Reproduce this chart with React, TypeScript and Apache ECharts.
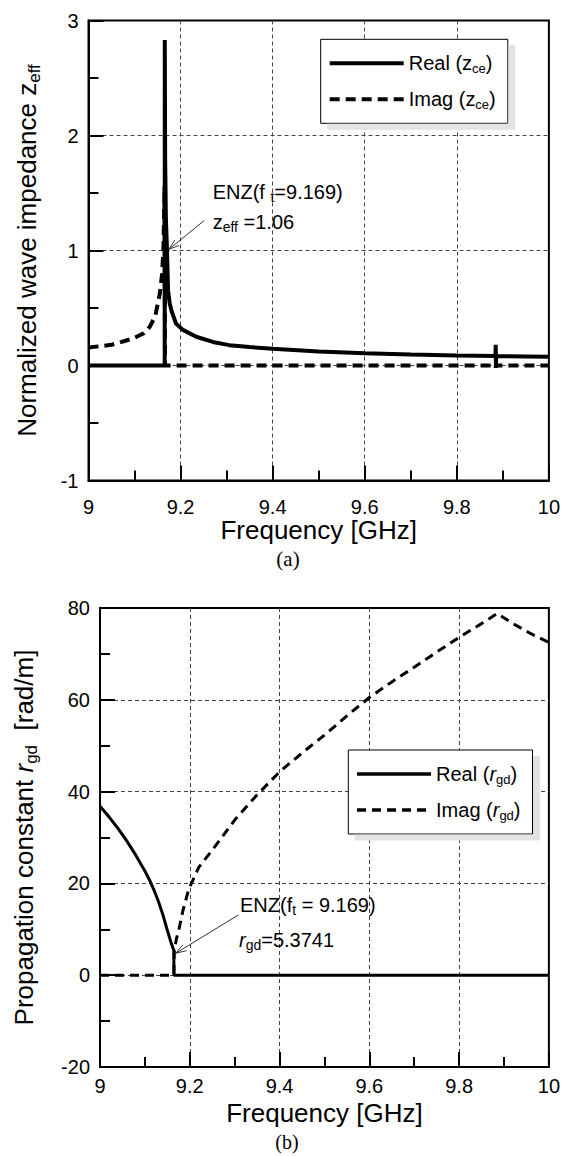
import React, { useEffect, useRef } from 'react';
import * as echarts from 'echarts';

// ---------- data (a): normalized wave impedance ----------
const xTicksLabel = ['9', '9.2', '9.4', '9.6', '9.8', '10'];
const aRealF = [9.0, 9.1655, 9.1657, 9.1665, 9.168, 9.1705, 9.1728, 9.1764, 9.18, 9.19, 9.205, 9.234, 9.27, 9.306, 9.35, 9.4, 9.5, 9.6, 9.7, 9.8, 9.884, 9.8845, 9.885, 9.8855, 9.95, 10.0];
const aRealV = [0, 0, 2.83, 1.8, 1.3, 1.0, 0.655, 0.54, 0.48, 0.365, 0.31, 0.25, 0.205, 0.177, 0.16, 0.146, 0.122, 0.106, 0.095, 0.086, 0.082, 0.18, 0.0, 0.081, 0.079, 0.077];
const aImagF = [9.0, 9.05, 9.097, 9.12, 9.133, 9.145, 9.155, 9.16, 9.163, 9.1652, 9.1662, 9.884, 9.8845, 9.885, 10.0];
const aImagV = [0.156, 0.18, 0.235, 0.28, 0.336, 0.43, 0.626, 0.8, 1.05, 1.56, 0, 0, -0.02, 0, 0];
const annA = { f: 9.1745, v: 1.01 };

// ---------- data (b): propagation constant ----------
const bRealF = [9.0, 9.02, 9.04, 9.06, 9.08, 9.1, 9.11, 9.12, 9.13, 9.14, 9.15, 9.158, 9.1645, 9.1647, 10.0];
const bRealV = [36.8, 34.5, 32.0, 29.2, 26.1, 22.7, 20.8, 18.6, 16.1, 13.2, 9.8, 7.2, 5.37, 0, 0];
const bImagF = [9.0, 9.1645, 9.1655, 9.17, 9.1766, 9.185, 9.198, 9.22, 9.252, 9.3, 9.35, 9.4, 9.45, 9.5, 9.55, 9.6, 9.65, 9.7, 9.75, 9.8, 9.85, 9.885, 9.92, 9.96, 10.0];
const bImagV = [0, 0, 5.37, 7.8, 10.3, 14.2, 18.8, 23.5, 27.5, 33.8, 39.3, 44.3, 48.4, 52.3, 56.5, 60.5, 63.9, 67.1, 70.4, 73.6, 76.6, 78.8, 76.6, 74.4, 72.5];
const annB = { f: 9.169, v: 4.8 };

const FONT = '"Liberation Sans", Arial, Helvetica, sans-serif';
const SERIF = '"Liberation Serif", "Times New Roman", serif';

const pairs = (f: number[], v: number[]) => f.map((x, i) => [x, v[i]]);

const subRich = (size: number, lh: number) => ({
  fontSize: size, lineHeight: lh, verticalAlign: 'bottom', fontFamily: FONT, color: '#000',
});
const itRich = (size: number, lh: number) => ({
  fontSize: size, lineHeight: lh, fontStyle: 'italic', fontFamily: FONT, color: '#000',
});

const xLabel = (v: number) => {
  const s = String(Math.round(v * 10) / 10);
  return xTicksLabel.includes(s) ? s : s;
};

function axisCommon(labelMargin: number) {
  return {
    axisLine: { show: true, onZero: false, lineStyle: { color: '#000', width: 2 } },
    axisTick: { show: true, inside: true, length: 15, lineStyle: { color: '#000', width: 2 } },
    minorTick: { show: true, splitNumber: 2, length: 10, lineStyle: { color: '#000', width: 2 } },
    splitLine: { show: true, showMinLine: false, showMaxLine: false, lineStyle: { color: '#444', width: 1, type: [4, 3] } },
    axisLabel: { color: '#000', fontSize: 20, fontFamily: FONT, margin: labelMargin },
  };
}

function arrow(x1: number, y1: number, x2: number, y2: number) {
  const ang = Math.atan2(y1 - y2, x1 - x2);
  const L = 11, a = 0.32;
  const p1 = [x2 + L * Math.cos(ang + a), y2 + L * Math.sin(ang + a)];
  const p2 = [x2 + L * Math.cos(ang - a), y2 + L * Math.sin(ang - a)];
  return [
    { type: 'line', z: 100, shape: { x1, y1, x2, y2 }, style: { stroke: '#333', lineWidth: 1 } },
    { type: 'polyline', z: 100, shape: { points: [p1, [x2, y2], p2] }, style: { stroke: '#333', lineWidth: 1, fill: null } },
  ];
}

function txt(x: number, y: number, text: string, size = 20, family = FONT, align = 'left') {
  return {
    type: 'text', z: 100,
    style: {
      x, y, text, fontSize: size, fontFamily: family, fill: '#000', align, verticalAlign: 'middle', lineHeight: 24,
      rich: {
        s: { fontSize: 14, lineHeight: 12, verticalAlign: 'bottom', fontFamily: FONT, fill: '#000' },
        i: { fontSize: size, lineHeight: 24, fontStyle: 'italic', fontFamily: FONT, fill: '#000' },
      },
    },
  };
}

export default function App() {
  const ref = useRef<HTMLDivElement>(null);
  useEffect(() => {
    if (!ref.current) return;
    const chart = echarts.init(ref.current, null, { renderer: 'svg' });
    const legendCommon = {
      orient: 'vertical',
      itemWidth: 74,
      itemHeight: 24,
      itemGap: 12,
      padding: [12, 12, 12, 7],
      backgroundColor: '#fff',
      borderColor: '#000',
      borderWidth: 1,
      borderRadius: 0,
      shadowColor: '#e2e2e2',
      shadowBlur: 0,
      shadowOffsetX: 7,
      shadowOffsetY: 6,
      selectedMode: false,
      itemStyle: { opacity: 0, color: 'rgba(0,0,0,0)', borderWidth: 0 },
      textStyle: {
        fontSize: 20, fontFamily: FONT, color: '#000', lineHeight: 24,
        rich: { s: subRich(13, 12), i: itRich(20, 24) },
      },
    };
    const option: any = {
      animation: false,
      backgroundColor: '#fff',
      textStyle: { fontFamily: FONT },
      grid: [
        { left: 88.5, top: 20.5, width: 462, height: 460, show: true, borderColor: '#000', borderWidth: 2, backgroundColor: 'transparent' },
        { left: 95, top: 608, width: 462.6, height: 459, show: true, borderColor: '#000', borderWidth: 2, backgroundColor: 'transparent' },
      ],
      xAxis: [
        {
          gridIndex: 0, type: 'value', min: 9, max: 10, interval: 0.2, ...axisCommon(16),
          axisLabel: { ...axisCommon(16).axisLabel, formatter: xLabel },
          name: 'Frequency [GHz]', nameLocation: 'middle', nameGap: 33,
          nameTextStyle: { fontSize: 26, fontFamily: FONT, color: '#000' },
        },
        {
          gridIndex: 1, type: 'value', min: 9, max: 10, interval: 0.2, ...axisCommon(9),
          axisLabel: { ...axisCommon(9).axisLabel, formatter: xLabel },
          name: 'Frequency [GHz]', nameLocation: 'middle', nameGap: 33,
          nameTextStyle: { fontSize: 26, fontFamily: FONT, color: '#000' },
        },
      ],
      yAxis: [
        {
          gridIndex: 0, type: 'value', min: -1, max: 3, interval: 1, ...axisCommon(10),
          name: 'Normalized wave impedance z{s|eff}', nameLocation: 'middle', nameGap: 46,
          nameTextStyle: {
            fontSize: 26, fontFamily: FONT, color: '#000', lineHeight: 32,
            rich: { s: subRich(17, 16) },
          },
        },
        {
          gridIndex: 1, type: 'value', min: -20, max: 80, interval: 20, ...axisCommon(10),
          name: 'Propagation constant {i|r}{s|gd}  [rad/m]', nameLocation: 'middle', nameGap: 60,
          nameTextStyle: {
            fontSize: 26, fontFamily: FONT, color: '#000', lineHeight: 32,
            rich: { s: subRich(17, 16), i: itRich(26, 32) },
          },
        },
      ],
      legend: [
        {
          ...legendCommon, left: 320.7, top: 39.3, data: ['aReal', 'aImag'],
          lineStyle: { width: 4 },
          formatter: (n: string) => (n === 'aReal' ? 'Real (z{s|ce})' : 'Imag (z{s|ce})'),
        },
        {
          ...legendCommon, left: 348.3, top: 750, data: ['bReal', 'bImag'],
          lineStyle: { width: 3.5 },
          formatter: (n: string) => (n === 'bReal' ? 'Real ({i|r}{s|gd})' : 'Imag ({i|r}{s|gd})'),
        },
      ],
      series: [
        {
          name: 'aReal', type: 'line', xAxisIndex: 0, yAxisIndex: 0, data: pairs(aRealF, aRealV),
          symbol: 'none', lineStyle: { color: '#000', width: 4, type: 'solid' }, itemStyle: { color: '#000' }, z: 4,
        },
        {
          name: 'aImag', type: 'line', xAxisIndex: 0, yAxisIndex: 0, data: pairs(aImagF, aImagV),
          symbol: 'none', lineStyle: { color: '#000', width: 4, type: [10, 6] }, itemStyle: { color: '#000' }, z: 3,
        },
        {
          name: 'bReal', type: 'line', xAxisIndex: 1, yAxisIndex: 1, data: pairs(bRealF, bRealV),
          symbol: 'none', lineStyle: { color: '#000', width: 3, type: 'solid' }, itemStyle: { color: '#000' }, z: 4,
        },
        {
          name: 'bImag', type: 'line', xAxisIndex: 1, yAxisIndex: 1, data: pairs(bImagF, bImagV),
          symbol: 'none', lineStyle: { color: '#000', width: 3, type: [9, 6] }, itemStyle: { color: '#000' }, z: 3,
        },
      ],
    };
    chart.setOption(option);

    const tA = chart.convertToPixel({ gridIndex: 0 }, [annA.f, annA.v]) as number[];
    const tB = chart.convertToPixel({ gridIndex: 1 }, [annB.f, annB.v]) as number[];
    chart.setOption({
      graphic: [
        txt(212.7, 192, 'ENZ(f {s|t}=9.169)'),
        txt(212.7, 222, 'z{s|eff} =1.06'),
        ...arrow(204, 220.7, tA[0], tA[1]),
        txt(240, 905, 'ENZ(f{s|t} = 9.169)'),
        txt(239, 940, '{i|r}{s|gd}=5.3741'),
        ...arrow(238.3, 915, tB[0], tB[1]),
        txt(288, 559, '(a)', 21, SERIF, 'center'),
        txt(287, 1142, '(b)', 20, SERIF, 'center'),
      ],
    });
    return () => chart.dispose();
  }, []);
  return <div ref={ref} style={{ position: 'absolute', left: 0, top: 0, width: 563, height: 1156 }} />;
}
